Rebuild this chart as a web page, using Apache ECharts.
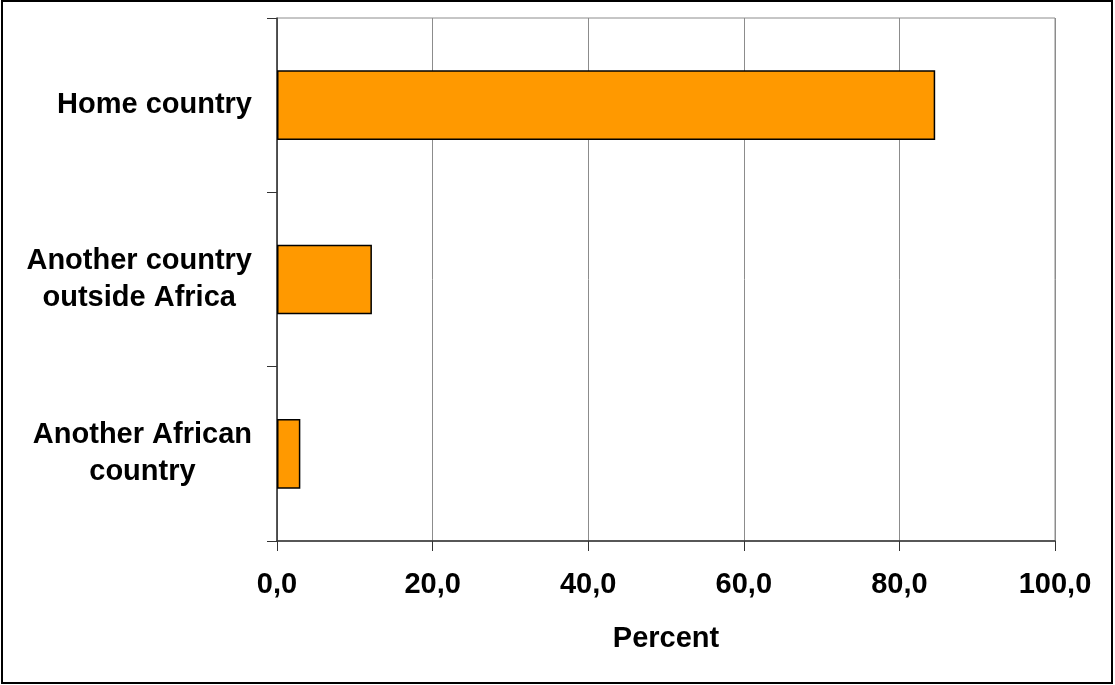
<!DOCTYPE html>
<html>
<head>
<meta charset="utf-8">
<script src="https://cdn.jsdelivr.net/npm/echarts@6/dist/echarts.min.js"></script>
<style>
html,body{margin:0;padding:0;background:#fff;}
#c{width:1115px;height:685px;}
</style>
</head>
<body>
<div id="c"></div>
<script>
const categories = ['Another African\ncountry', 'Another country\noutside Africa', 'Home country'];
const values = [3.0, 12.2, 84.6];
const xTicks = [0, 20, 40, 60, 80, 100];

const chart = echarts.init(document.getElementById('c'));
const font = '"Liberation Sans", Arial, sans-serif';
chart.setOption({
  backgroundColor: '#fff',
  animation: false,
  graphic: [{
    type: 'rect',
    shape: {x: 2, y: 1, width: 1110, height: 682},
    style: {fill: 'none', stroke: '#000', lineWidth: 2},
    z: 100
  }],
  grid: {
    left: 277, right: 60, top: 18, bottom: 144,
    show: true, borderColor: '#8c8c8c', borderWidth: 1, backgroundColor: 'transparent'
  },
  xAxis: {
    type: 'value',
    min: xTicks[0], max: xTicks[xTicks.length - 1], interval: 20,
    axisLine: {show: true, lineStyle: {color: '#333', width: 1.5}},
    axisTick: {show: true, length: 10, lineStyle: {color: '#333'}},
    splitLine: {show: true, lineStyle: {color: '#8c8c8c', width: 1}},
    axisLabel: {
      margin: 29,
      fontFamily: font, fontWeight: 'bold', fontSize: 29, color: '#000',
      formatter: v => v.toFixed(1).replace('.', ',')
    },
    name: 'Percent',
    nameLocation: 'middle',
    nameGap: 83,
    nameTextStyle: {fontFamily: font, fontWeight: 'bold', fontSize: 29, color: '#000', verticalAlign: 'top'}
  },
  yAxis: {
    type: 'category',
    data: categories,
    axisLine: {show: true, lineStyle: {color: '#333', width: 1.5}},
    axisTick: {show: true, length: 10, lineStyle: {color: '#333'}},
    splitLine: {show: false},
    axisLabel: {
      margin: 25,
      formatter: v => v.split('\n').map(s => '{a|' + s + '}').join('\n'),
      rich: {
        a: {align: 'center', fontFamily: font, fontWeight: 'bold', fontSize: 29, color: '#000', lineHeight: 37}
      }
    }
  },
  series: [{
    type: 'bar',
    data: values,
    barWidth: '40%',
    itemStyle: {color: '#FF9900', borderColor: '#000', borderWidth: 1.5}
  }]
});
</script>
</body>
</html>
